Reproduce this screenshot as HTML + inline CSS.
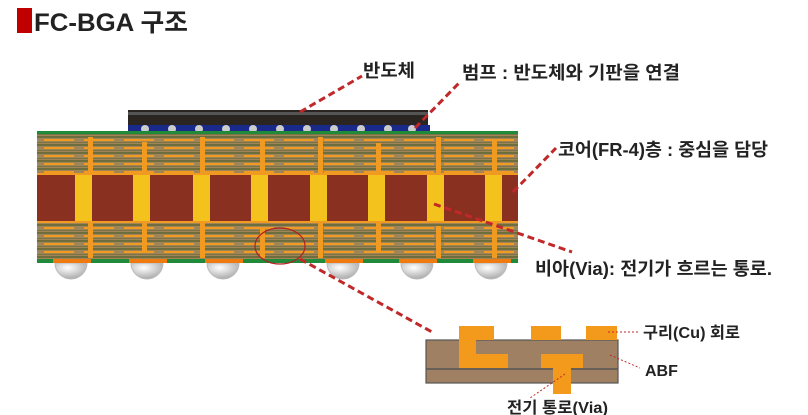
<!DOCTYPE html>
<html><head><meta charset="utf-8"><style>
body{margin:0;background:#fff;width:808px;height:415px;overflow:hidden}
svg{display:block}
text{font-family:"Liberation Sans","Noto Sans CJK KR",sans-serif;font-weight:bold;fill:#222}
</style></head><body>
<svg width="808" height="415" viewBox="0 0 808 415">
<defs>
<pattern id="bu" width="40" height="8" patternUnits="userSpaceOnUse">
<rect width="40" height="8" fill="#a08558"/>
<rect y="0" width="40" height="2" fill="#6e6d3e"/>
<rect x="4" y="3" width="30" height="2" fill="#f09a22"/>
<rect y="6" width="40" height="1" fill="#7a7445"/>
</pattern>
<radialGradient id="ball" cx="0.4" cy="0.3" r="0.7">
<stop offset="0" stop-color="#fff"/><stop offset="1" stop-color="#aaa"/>
</radialGradient>
</defs>
<rect x="17" y="8" width="15" height="25" fill="#c00000"/>
<text x="34" y="31" font-size="25" textLength="154" lengthAdjust="spacingAndGlyphs">FC-BGA 구조</text>

<!-- chip -->
<rect x="128" y="110" width="300" height="16" fill="#2b2522"/>
<rect x="128" y="112" width="300" height="3" fill="#555"/>
<rect x="128" y="125" width="302" height="8" fill="#1a2a8a"/>
<g fill="#ccc">
<circle cx="145" cy="129" r="4"/><circle cx="172" cy="129" r="4"/><circle cx="199" cy="129" r="4"/><circle cx="226" cy="129" r="4"/><circle cx="253" cy="129" r="4"/><circle cx="280" cy="129" r="4"/><circle cx="307" cy="129" r="4"/><circle cx="334" cy="129" r="4"/><circle cx="361" cy="129" r="4"/><circle cx="388" cy="129" r="4"/><circle cx="412" cy="129" r="4"/>
</g>
<!-- substrate -->
<rect x="37" y="132" width="481" height="131" fill="url(#bu)"/>
<rect x="37" y="131" width="481" height="3" fill="#1f8a3a"/>
<rect x="37" y="259" width="481" height="4" fill="#1f8a3a"/>
<g fill="#f09a22">
<rect x="88" y="137" width="5" height="38"/><rect x="142" y="142" width="5" height="33"/><rect x="200" y="137" width="5" height="38"/><rect x="260" y="140" width="5" height="35"/><rect x="318" y="137" width="5" height="38"/><rect x="376" y="143" width="5" height="32"/><rect x="436" y="137" width="5" height="38"/><rect x="492" y="141" width="5" height="34"/>
<rect x="88" y="222" width="5" height="36"/><rect x="142" y="222" width="5" height="30"/><rect x="200" y="222" width="5" height="36"/><rect x="260" y="228" width="5" height="30"/><rect x="318" y="222" width="5" height="36"/><rect x="376" y="222" width="5" height="30"/><rect x="436" y="226" width="5" height="32"/><rect x="492" y="222" width="5" height="36"/>
</g>
<rect x="37" y="175" width="481" height="46" fill="#8a3020"/>
<rect x="37" y="173" width="481" height="2" fill="#f09a22"/>
<rect x="37" y="221" width="481" height="2" fill="#f09a22"/>
<g fill="#f4c21c">
<rect x="75" y="175" width="17" height="46"/><rect x="133" y="175" width="17" height="46"/><rect x="193" y="175" width="17" height="46"/><rect x="251" y="175" width="17" height="46"/><rect x="310" y="175" width="17" height="46"/><rect x="368" y="175" width="17" height="46"/><rect x="427" y="175" width="17" height="46"/><rect x="485" y="175" width="17" height="46"/>
</g>
<g fill="url(#ball)" stroke="#bbb">
<path d="M55 263 A16 16 0 0 0 87 263Z"/><path d="M131 263 A16 16 0 0 0 163 263Z"/><path d="M207 263 A16 16 0 0 0 239 263Z"/><path d="M327 263 A16 16 0 0 0 359 263Z"/><path d="M401 263 A16 16 0 0 0 433 263Z"/><path d="M475 263 A16 16 0 0 0 507 263Z"/>
</g>
<g fill="#ee7a10">
<rect x="53" y="259" width="38" height="4"/><rect x="129" y="259" width="38" height="4"/><rect x="205" y="259" width="38" height="4"/><rect x="325" y="259" width="38" height="4"/><rect x="399" y="259" width="38" height="4"/><rect x="473" y="259" width="38" height="4"/>
</g>
<ellipse cx="280" cy="246" rx="25" ry="18" fill="none" stroke="#b02020" stroke-width="1.2"/>

<!-- dashed leaders -->
<g stroke="#c0282a" stroke-width="3" stroke-dasharray="7,4" fill="none">
<line x1="300" y1="112" x2="362" y2="76"/>
<line x1="415" y1="128" x2="460" y2="82"/>
<line x1="513" y1="192" x2="556" y2="148"/>
<line x1="434" y1="204" x2="572" y2="252"/>
<line x1="300" y1="259" x2="432" y2="332"/>
</g>
<text x="363" y="77" font-size="18" textLength="52" lengthAdjust="spacingAndGlyphs">반도체</text>
<text x="462" y="79" font-size="18" textLength="218" lengthAdjust="spacingAndGlyphs">범프 : 반도체와 기판을 연결</text>
<text x="558" y="156" font-size="18" textLength="210" lengthAdjust="spacingAndGlyphs">코어(FR-4)층 : 중심을 담당</text>
<text x="535" y="275" font-size="18" textLength="237" lengthAdjust="spacingAndGlyphs">비아(Via): 전기가 흐르는 통로.</text>

<!-- inset -->
<rect x="426" y="340" width="192" height="43" fill="#a08063" stroke="#555" stroke-width="1.2"/>
<line x1="426" y1="369" x2="618" y2="369" stroke="#555" stroke-width="1.5"/>
<g fill="#f39a1c">
<rect x="459" y="326" width="35" height="14"/><rect x="531" y="326" width="30" height="14"/><rect x="586" y="326" width="31" height="14"/>
<rect x="459" y="340" width="17" height="28"/><rect x="459" y="354" width="49" height="14"/>
<rect x="541" y="354" width="42" height="14"/><rect x="553" y="368" width="18" height="26"/>
</g>
<g stroke="#c0282a" stroke-width="1" stroke-dasharray="2,2" fill="none">
<line x1="608" y1="332" x2="640" y2="332"/>
<line x1="610" y1="355" x2="640" y2="368"/>
<line x1="565" y1="374" x2="530" y2="398"/>
</g>
<text x="643" y="338" font-size="16" textLength="97" lengthAdjust="spacingAndGlyphs">구리(Cu) 회로</text>
<text x="645" y="376" font-size="16">ABF</text>
<text x="507" y="413" font-size="16" textLength="101" lengthAdjust="spacingAndGlyphs">전기 통로(Via)</text>
</svg>
</body></html>
